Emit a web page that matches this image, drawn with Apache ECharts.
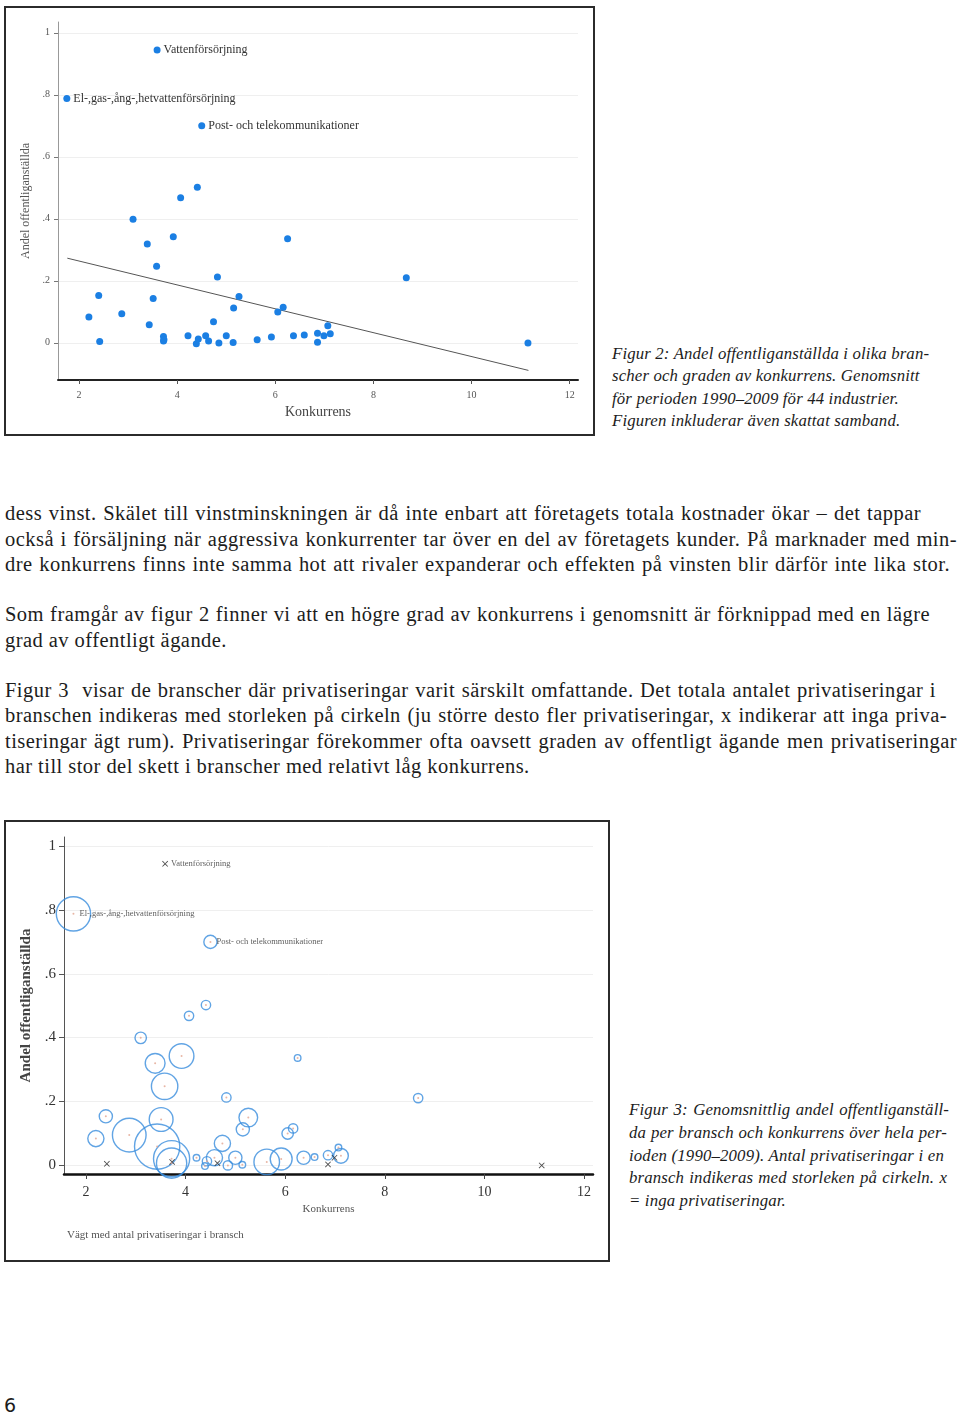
<!DOCTYPE html>
<html>
<head>
<meta charset="utf-8">
<script src="https://cdn.jsdelivr.net/npm/echarts@6/dist/echarts.min.js"></script>
<style>
    body { margin: 0; width: 960px; height: 1417px; position: relative; background: #fff; color: #1c1c1c; }
    .box { position: absolute; border: 2px solid #2b2b2b; box-sizing: border-box; background: #fff; }
    .line { position: absolute; left: 5px; white-space: nowrap; font-family: 'Liberation Serif', serif; font-size: 20.5px; letter-spacing: 0.45px; line-height: 26px; }
    .just { text-align: justify; text-align-last: justify; }
    .cap { position: absolute; white-space: nowrap; font-family: 'Liberation Serif', serif; font-style: italic; font-size: 16.8px; letter-spacing: 0.15px; line-height: 22px; }
    .pagenr { position: absolute; left: 4px; top: 1394px; font-family: 'DejaVu Sans', sans-serif; font-size: 19px; }
</style>
</head>
<body>

<div id="fig2" class="box" style="left:4px; top:6px; width:591px; height:430px;"></div>

<div class="cap" style="left:612px; top:343px;">Figur 2: Andel offentliganställda i olika bran-</div>
<div class="cap" style="left:612px; top:365px;">scher och graden av konkurrens. Genomsnitt</div>
<div class="cap" style="left:612px; top:388px;">för perioden 1990–2009 för 44 industrier.</div>
<div class="cap" style="left:612px; top:410px;">Figuren inkluderar även skattat samband.</div>

<div class="line just" style="top:500px; width:916px;">dess vinst. Skälet till vinstminskningen är då inte enbart att företagets totala kostnader ökar – det tappar</div>
<div class="line just" style="top:526px; width:952px;">också i försäljning när aggressiva konkurrenter tar över en del av företagets kunder. På marknader med min-</div>
<div class="line just" style="top:551px; width:945px;">dre konkurrens finns inte samma hot att rivaler expanderar och effekten på vinsten blir därför inte lika stor.</div>

<div class="line just" style="top:601px; width:925px;">Som framgår av figur 2 finner vi att en högre grad av konkurrens i genomsnitt är förknippad med en lägre</div>
<div class="line" style="top:627px;">grad av offentligt ägande.</div>

<div class="line just" style="top:677px; width:931px;">Figur 3&nbsp; visar de branscher där privatiseringar varit särskilt omfattande. Det totala antalet privatiseringar i</div>
<div class="line just" style="top:702px; width:942px;">branschen indikeras med storleken på cirkeln (ju större desto fler privatiseringar, x indikerar att inga priva-</div>
<div class="line just" style="top:728px; width:952px;">tiseringar ägt rum). Privatiseringar förekommer ofta oavsett graden av offentligt ägande men privatiseringar</div>
<div class="line" style="top:753px;">har till stor del skett i branscher med relativt låg konkurrens.</div>

<div id="fig3" class="box" style="left:4px; top:820px; width:606px; height:442px;"></div>

<div class="cap just" style="left:629px; top:1099px; width:320px;">Figur 3: Genomsnittlig andel offentliganställ-</div>
<div class="cap just" style="left:629px; top:1122px; width:318px;">da per bransch och konkurrens över hela per-</div>
<div class="cap just" style="left:629px; top:1145px; width:315px;">ioden (1990–2009). Antal privatiseringar i en</div>
<div class="cap just" style="left:629px; top:1167px; width:318px;">bransch indikeras med storleken på cirkeln. x</div>
<div class="cap" style="left:629px; top:1190px;">= inga privatiseringar.</div>

<div class="pagenr">6</div>

<script>
// data avläst ur figurerna, en post per bransch (44 st)
const namn = ['Vattenförsörjning', 'El-,gas-,ång-,hetvattenförsörjning', 'Post- och telekommunikationer'];
const konkurrens = [3.59, 1.75, 4.50, 4.41, 4.07, 3.10, 3.92, 3.39, 6.25, 3.58, 4.82, 8.67, 2.40, 3.51, 5.26,
    2.20, 2.87, 3.43, 4.74, 5.15, 6.05, 6.16, 7.07, 2.42, 3.72, 3.72, 3.73, 4.22, 4.39, 4.43, 4.58, 4.64,
    4.85, 5.00, 5.14, 5.63, 5.92, 6.37, 6.59, 6.86, 6.86, 6.99, 7.12, 11.15];
const andel = [0.945, 0.788, 0.700, 0.502, 0.468, 0.399, 0.342, 0.319, 0.336, 0.247, 0.212, 0.210, 0.153, 0.143, 0.149,
    0.083, 0.094, 0.058, 0.068, 0.112, 0.099, 0.115, 0.055, 0.004, 0.020, 0.006, 0.010, 0.023, -0.003, 0.012, 0.023, 0.006,
    -0.001, 0.023, 0.001, 0.010, 0.019, 0.023, 0.025, 0.031, 0.002, 0.023, 0.029, -0.001];
const privatiseringar = [0, 27, 4, 2, 2, 3, 14, 9, 1, 16, 2, 2, 4, 13, 8,
    6, 26, 47, 6, 4, 3, 2, 1, 0, 30, 21, 0, 1, 1, 2, 6, 0,
    2, 4, 1, 15, 11, 4, 1, 2, 0, 0, 5, 0];
// skattat samband (ändpunkter)
const fitX = [1.76, 11.16];
const fitY = [0.273, -0.089];
// tick-värden
const xTicks = [2, 4, 6, 8, 10, 12];
const yTicks = [0, 0.2, 0.4, 0.6, 0.8, 1];

document.addEventListener('DOMContentLoaded', function() {
    const serif = 'Liberation Serif';
    const yFmt = function(v) {
        if (v === 0 || v === 1) return String(v);
        return String(v).replace(/^0/, '');
    };
    const xMark = 'path://M0,1L1,0L5,4L9,0L10,1L6,5L10,9L9,10L5,6L1,10L0,9L4,5Z';

    // Figur 2: punkter + regressionslinje
    const fig2 = echarts.init(document.getElementById('fig2'));
    fig2.setOption({
        animation: false,
        grid: { left: 52, top: 14, right: 15, bottom: 54 },
        xAxis: {
            type: 'value', min: 1.57, max: 12.17,
            name: 'Konkurrens', nameLocation: 'middle', nameGap: 21,
            nameTextStyle: { fontFamily: serif, fontSize: 14, color: '#444' },
            axisLine: { onZero: false, lineStyle: { color: '#222', width: 2 } },
            axisTick: { show: true, length: 4, customValues: xTicks, lineStyle: { color: '#555' } },
            axisLabel: { customValues: xTicks, fontFamily: serif, fontSize: 10, color: '#555', margin: 10 },
            splitLine: { show: false }
        },
        yAxis: {
            type: 'value', min: -0.12, max: 1.035,
            name: 'Andel offentliganställda', nameLocation: 'middle', nameGap: 22,
            nameTextStyle: { fontFamily: serif, fontSize: 12, color: '#555' },
            axisLine: { onZero: false, lineStyle: { color: '#999', width: 1 } },
            axisTick: { show: true, length: 4, customValues: yTicks, lineStyle: { color: '#777' } },
            axisLabel: { customValues: yTicks, formatter: yFmt, fontFamily: serif, fontSize: 10, color: '#555', margin: 8 },
            splitLine: { show: true, lineStyle: { color: '#efefef', width: 1 } }
        },
        series: [{
            type: 'line',
            data: fitX.map(function(x, i) { return [x, fitY[i]]; }),
            showSymbol: false,
            lineStyle: { color: '#555', width: 1 },
            z: 1
        }, {
            type: 'scatter',
            data: konkurrens.map(function(x, i) { return { value: [x, andel[i]], name: namn[i] || '' }; }),
            symbolSize: 7,
            itemStyle: { color: '#1b7fe3', opacity: 1 },
            label: {
                show: true, position: 'right', distance: 3,
                formatter: function(p) { return p.name; },
                fontFamily: serif, fontSize: 12, color: '#333'
            },
            z: 2
        }]
    });

    // Figur 3: cirklar viktade med antal privatiseringar, x = inga
    const cirklar = [], kryss = [], centrum = [];
    konkurrens.forEach(function(x, i) {
        const n = privatiseringar[i];
        if (n > 0) cirklar.push([x, andel[i], n]);
        else kryss.push([x, andel[i]]);
        centrum.push({ value: [x, andel[i], n], name: namn[i] || '' });
    });

    const fig3 = echarts.init(document.getElementById('fig3'));
    fig3.setOption({
        animation: false,
        grid: { left: 58, top: 15, right: 15, bottom: 86 },
        graphic: [{
            type: 'text', left: 61, top: 408,
            style: { text: 'Vägt med antal privatiseringar i bransch', font: '11px "Liberation Serif"', fill: '#555' }
        }],
        xAxis: {
            type: 'value', min: 1.56, max: 12.18,
            name: 'Konkurrens', nameLocation: 'middle', nameGap: 27,
            nameTextStyle: { fontFamily: serif, fontSize: 11, color: '#555' },
            axisLine: { onZero: false, lineStyle: { color: '#111', width: 2.5 } },
            axisTick: { show: true, length: 5, customValues: xTicks, lineStyle: { color: '#444' } },
            axisLabel: { customValues: xTicks, fontFamily: serif, fontSize: 14, color: '#333', margin: 11 },
            splitLine: { show: false }
        },
        yAxis: {
            type: 'value', min: -0.028, max: 1.029,
            name: 'Andel offentliganställda', nameLocation: 'middle', nameGap: 27,
            nameTextStyle: { fontFamily: serif, fontSize: 15, fontWeight: 'bold', color: '#444' },
            axisLine: { onZero: false, lineStyle: { color: '#555', width: 1 } },
            axisTick: { show: true, length: 5, customValues: yTicks, lineStyle: { color: '#555' } },
            axisLabel: { customValues: yTicks, formatter: yFmt, fontFamily: serif, fontSize: 15, color: '#333', margin: 8 },
            splitLine: { show: true, lineStyle: { color: '#efefef', width: 1 } }
        },
        series: [{
            type: 'scatter',
            data: cirklar,
            symbolSize: function(d) { return 6.6 * Math.sqrt(d[2]); },
            itemStyle: { color: 'rgba(0,0,0,0)', borderColor: '#3a8ddd', borderWidth: 1.4 },
            clip: false
        }, {
            type: 'scatter',
            data: kryss,
            symbol: xMark,
            symbolSize: 6,
            itemStyle: { color: '#222' }
        }, {
            type: 'scatter',
            data: centrum,
            symbolSize: 2,
            itemStyle: {
                color: function(p) { return p.value[2] > 0 ? '#e2a48e' : 'rgba(0,0,0,0)'; }
            },
            label: {
                show: true, position: 'right', distance: 5,
                formatter: function(p) { return p.name; },
                fontFamily: serif, fontSize: 8.5, color: '#333'
            },
            z: 3
        }]
    });
});
</script>
</body>
</html>
